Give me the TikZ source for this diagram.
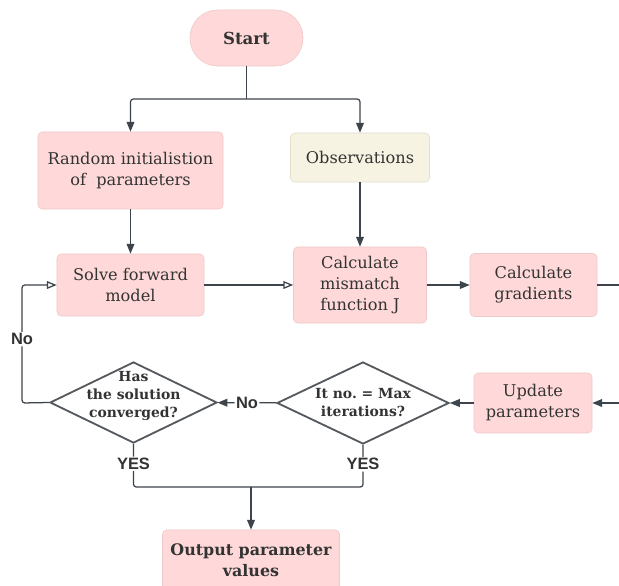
\documentclass[tikz,border=0pt]{standalone}
\usepackage{fontspec}
\setmainfont{DejaVu Serif}
\newfontfamily\tagfont{Liberation Sans}
\usetikzlibrary{shapes.geometric,arrows.meta}

\definecolor{boxpink}{HTML}{FFD9D9}
\definecolor{boxedge}{HTML}{EFC8C8}
\definecolor{obsfill}{HTML}{F6F3E3}
\definecolor{obsedge}{HTML}{E4DFCB}
\definecolor{linegray}{HTML}{3E444C}
\definecolor{textgray}{HTML}{333333}
\definecolor{diamedge}{HTML}{55595E}

\begin{document}
\begin{tikzpicture}[x=0.025cm, y=-0.025cm, % pixel-like units, y pointing down
    every node/.style={text=textgray},
    process/.style={draw=boxedge, fill=boxpink, rounded corners=3pt, align=center,
        inner sep=0pt, font=\fontsize{11.5}{14.9}\selectfont},
    terminal/.style={process, font=\bfseries\fontsize{11.8}{15}\selectfont},
    decision/.style={diamond, draw=diamedge, line width=1.3pt, fill=white, inner sep=0pt},
    decisiontext/.style={align=center, font=\bfseries\fontsize{9.9}{13}\selectfont},
    answer/.style={fill=white, inner sep=1pt, font=\tagfont\bfseries\fontsize{11.7}{12}\selectfont},
    link/.style={draw=linegray, line width=0.9pt, rounded corners=2pt},
    arrow/.style={link, -{Triangle[length=7pt, width=5.5pt]}},
    hollow/.style={link, -{Triangle[open, length=7pt, width=5.5pt]}}]

    % --- Canvas ---
    \clip (0,0) rectangle (619,586);
    \fill[white] (0,0) rectangle (619,586);

    % --- Boxes ---
    \node[terminal, minimum width=2.825cm, minimum height=1.4cm, rounded corners=0.69cm] (start) at (246.5,38) {Start};
    \node[process, minimum width=4.625cm, minimum height=1.925cm] (init) at (130.5,170.5) {Random initialistion\\of\ \ parameters};
    \node[process, draw=obsedge, fill=obsfill, minimum width=3.475cm, minimum height=1.225cm] (obs) at (360,157.5) {Observations};
    \node[process, minimum width=3.675cm, minimum height=1.55cm] (solve) at (130.5,285) {Solve forward\\model};
    \node[process, minimum width=3.325cm, minimum height=1.9cm] (mismatch) at (360,285) {Calculate\\mismatch\\function J};
    \node[process, minimum width=3.175cm, minimum height=1.575cm] (grad) at (533.5,285) {Calculate\\gradients};
    \node[process, minimum width=2.95cm, minimum height=1.5cm] (update) at (533,403) {Update\\parameters};
    \node[terminal, minimum width=4.425cm, minimum height=1.5cm, rounded corners=3pt, font=\bfseries\fontsize{11.3}{15}\selectfont] (output) at (251,560) {Output parameter\\values};

    % --- Decisions ---
    \node[decision, minimum width=4.175cm, minimum height=2.025cm] (conv) at (133.5,402.5) {};
    \node[decisiontext] (conv-txt) at (133.5,396) {Has\\the solution\\converged?};
    \node[decision, minimum width=4.3cm, minimum height=2.05cm] (maxit) at (363,403) {};
    \node[decisiontext] (maxit-txt) at (363,402.5) {It no.\ = Max\\iterations?};

    % --- Helper points ---
    \coordinate (split) at (246.5,99);
    \coordinate (merge) at (251,487);
    \coordinate (back) at (22,403);
    \coordinate (eastout) at (625,285);
    \coordinate (eastin) at (625,403);

    % --- Connectors ---
    \draw[link] (start) -- (split);
    \draw[arrow] (split) -| (init);
    \draw[arrow] (split) -| (obs);
    \draw[arrow] (init) -- (solve);
    \draw[arrow] (obs) -- (mismatch);
    \draw[hollow] (solve) -- (mismatch);
    \draw[arrow] (mismatch) -- (grad);
    \draw[link] (grad) -- (eastout);
    \draw[arrow] (eastin) -- (update);
    \draw[arrow] (update) -- (maxit);
    \draw[arrow] (maxit) -- node[answer] {No} (conv);
    \draw[hollow] (conv.west) -- (back) |- node[answer, pos=0.27] {No} (solve.west);

    % YES branches join before the output
    \draw[link] (conv.south) |- node[answer, pos=0.23] {YES} (merge);
    \draw[link] (maxit.south) |- node[answer, pos=0.23] {YES} (merge);
    \draw[arrow] (merge) -- (output);

\end{tikzpicture}
\end{document}
